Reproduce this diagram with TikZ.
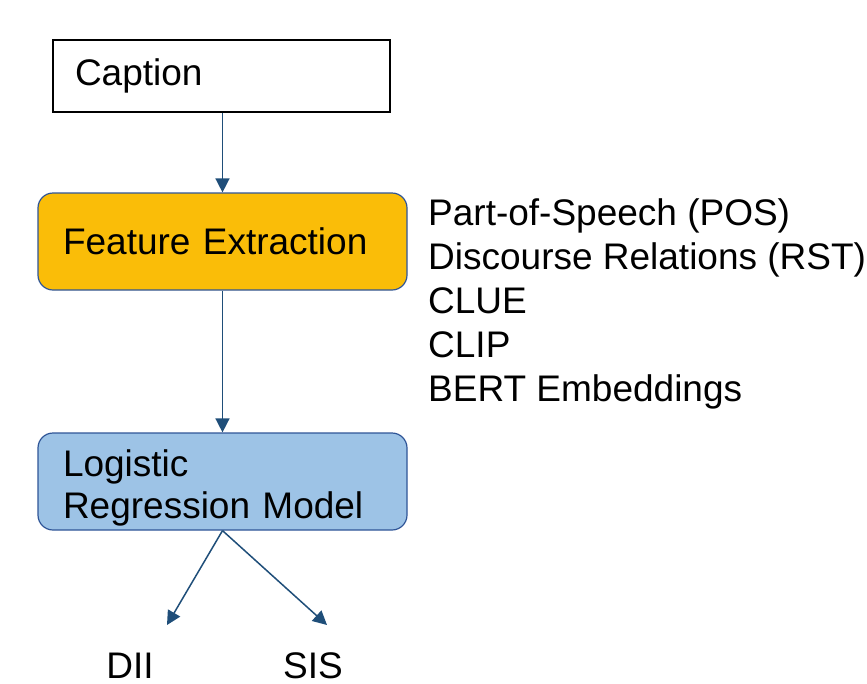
\documentclass[tikz,border=0pt]{standalone}
\usepackage{fontspec}
\setmainfont{Liberation Sans}
\usetikzlibrary{arrows.meta, positioning}
\definecolor{flowblue}{RGB}{31, 78, 121}
\definecolor{edgeblue}{RGB}{47, 85, 151}
\definecolor{featorange}{RGB}{250, 189, 8}
\definecolor{modelblue}{RGB}{157, 195, 230}
\tikzstyle{inputbox} = [rectangle, draw=black, line width=1.5pt, fill=white,
                        text width=293pt, inner xsep=22pt, minimum height=72pt, align=left]
\tikzstyle{stagebox} = [rectangle, rounded corners=15pt, draw=edgeblue, line width=1.2pt,
                        text width=319pt, inner xsep=25pt, minimum height=97pt, align=left]
\tikzstyle{arrow} = [-{Triangle[length=14pt, width=14pt]}, line width=1.5pt, flowblue]

\begin{document}
\begin{tikzpicture}[x=1pt, y=-1pt, font=\fontsize{37}{44}\selectfont]
\useasboundingbox (0, 0) rectangle (867, 683);

% Components
\node[inputbox] (caption) at (221.5, 76) {Caption};
\node[stagebox, fill=featorange] (features) at (222.5, 241.5) {Feature Extraction};
\node[stagebox, fill=modelblue, font=\fontsize{37}{42}\selectfont] (model) at (222.5, 481.5)
    {\rule{0pt}{39pt}Logistic\\Regression Model};

% Outputs
\node[anchor=base, inner sep=0pt] (dii) at (130, 678) {DII};
\node[anchor=base, inner sep=0pt] (sis) at (313, 678) {SIS};
\coordinate (diiend) at (167, 625);
\coordinate (sisend) at (327, 625);

% Feature list
\node[anchor=base west, inner sep=0pt, align=left] (featlist) at (428, 401) {%
    Part-of-Speech (POS)\\
    Discourse Relations (RST)\\
    CLUE\\
    CLIP\\
    BERT Embeddings};

% Arrows
\draw[arrow] (features.north |- caption.south) -- (features.north);
\draw[arrow] (features) -- (model);
\draw[arrow] (model.south) -- (diiend);
\draw[arrow] (model.south) -- (sisend);

\end{tikzpicture}
\end{document}
